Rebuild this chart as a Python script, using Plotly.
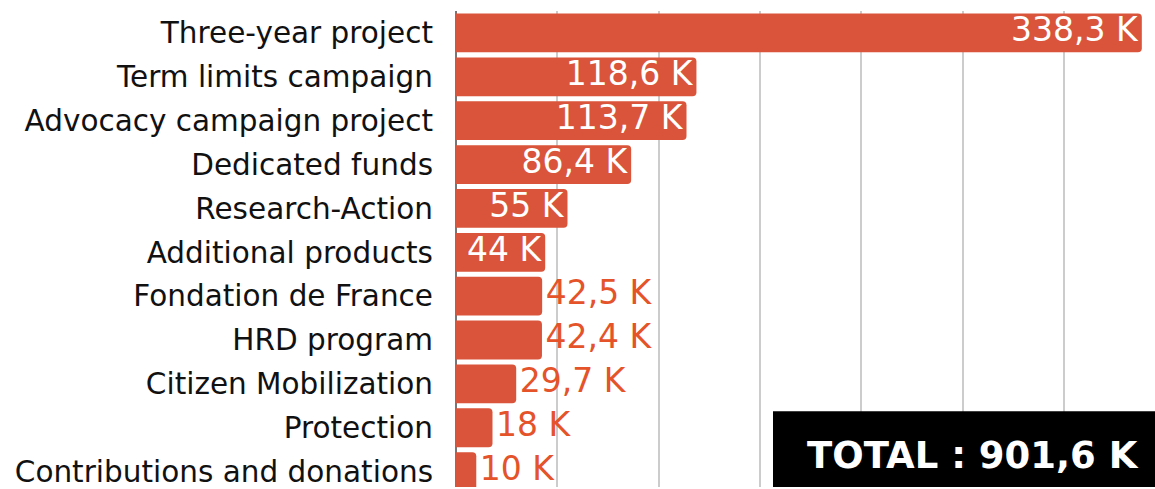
import plotly.graph_objects as go

categories = ["Three-year project", "Term limits campaign", "Advocacy campaign project",
              "Dedicated funds", "Research-Action", "Additional products",
              "Fondation de France", "HRD program", "Citizen Mobilization",
              "Protection", "Contributions and donations"]
values = [338.3, 118.6, 113.7, 86.4, 55, 44, 42.5, 42.4, 29.7, 18, 10]
value_labels = ["338,3 K", "118,6 K", "113,7 K", "86,4 K", "55 K", "44 K",
                "42,5 K", "42,4 K", "29,7 K", "18 K", "10 K"]
n_inside = 6
total_label = "TOTAL : 901,6 K"

BAR = "#D9543A"
OUT = "#E4532A"
FONT = "DejaVu Sans"

fig = go.Figure()
fig.add_trace(go.Bar(
    x=values, y=categories, orientation="h",
    marker=dict(color=BAR, line=dict(width=0)),
    hoverinfo="skip",
))
# inside labels (white, right-aligned at bar end)
fig.add_trace(go.Scatter(
    x=values[:n_inside], y=categories[:n_inside], mode="markers+text",
    marker=dict(size=5, opacity=0),
    text=value_labels[:n_inside], textposition="middle left",
    textfont=dict(color="white", size=33, family=FONT),
    cliponaxis=False, hoverinfo="skip",
))
# outside labels (orange, after bar end)
fig.add_trace(go.Scatter(
    x=values[n_inside:], y=categories[n_inside:], mode="markers+text",
    marker=dict(size=4, opacity=0),
    text=value_labels[n_inside:], textposition="middle right",
    textfont=dict(color=OUT, size=33, family=FONT),
    cliponaxis=False, hoverinfo="skip",
))

fig.update_layout(
    width=1155, height=489,
    margin=dict(l=456, r=0, t=10.5, b=0),
    paper_bgcolor="white", plot_bgcolor="white",
    bargap=0.115, barcornerradius=4,
    showlegend=False,
    font=dict(family=FONT, color="#111111"),
    xaxis=dict(range=[0, 344.8], dtick=50, showgrid=True, gridcolor="#CCCCCC", gridwidth=1.5,
               showticklabels=False, zeroline=True, zerolinecolor="#777777", zerolinewidth=1.5,
               fixedrange=True),
    yaxis=dict(type="category", range=[10.35, -0.5], showgrid=False,
               tickfont=dict(size=29.5, family=FONT, color="#111111"),
               ticks="", ticklabelstandoff=22, fixedrange=True),
    shapes=[dict(type="rect", xref="paper", yref="paper", x0=0.4535, x1=1.0, y0=0, y1=0.159,
                 fillcolor="black", line=dict(width=0), layer="above")],
    annotations=[dict(xref="paper", yref="paper", x=0.739, y=0.067, text="<b>" + total_label + "</b>",
                      showarrow=False, xanchor="center", yanchor="middle",
                      font=dict(family=FONT, size=37, color="white"))],
)

fig.write_html("out.html", config={"displayModeBar": False},
               post_script="document.body.style.margin='0';")
